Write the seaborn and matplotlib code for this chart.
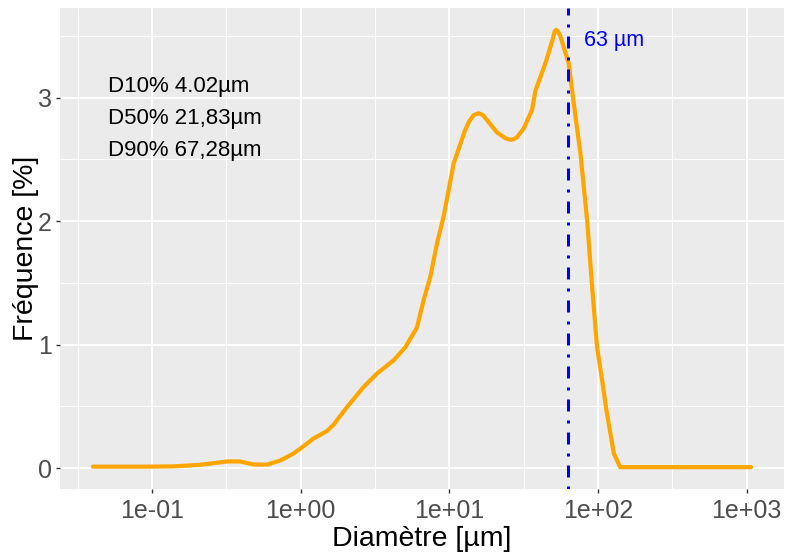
import numpy as np
import pandas as pd
import matplotlib
matplotlib.use("Agg")
import matplotlib.pyplot as plt
from matplotlib.ticker import FixedLocator, FixedFormatter, NullFormatter
import seaborn as sns

# Particle size distribution (diameter in µm, frequency in %)
diameter_um = [0.04, 0.06, 0.09, 0.138, 0.17, 0.21, 0.26, 0.32, 0.39, 0.48,
               0.59, 0.73, 0.89, 1.0, 1.22, 1.5, 1.66, 2.05, 2.65, 3.26,
               4.22, 5.06, 6.06, 6.71, 7.45, 8.26, 9.16, 10.7, 11.9, 12.7,
               13.6, 14.6, 15.7, 16.8, 17.9, 20.9, 24.0, 25.7, 27.2, 28.5,
               31.6, 36.0, 38.0, 44.3, 49.5, 51.2, 52.4, 53.6, 55.8, 63.5,
               68.7, 76.2, 84.5, 91.3, 98.6, 107.0, 114.0, 128.0, 141.0, 200.0,
               500.0, 1072.0]
frequency_pct = [0.012, 0.012, 0.012, 0.014, 0.02, 0.027, 0.04, 0.054, 0.054, 0.03,
                 0.028, 0.062, 0.117, 0.16, 0.24, 0.30, 0.35, 0.495, 0.657, 0.766,
                 0.873, 0.98, 1.14, 1.36, 1.55, 1.82, 2.04, 2.47, 2.63, 2.73,
                 2.81, 2.86, 2.875, 2.86, 2.82, 2.72, 2.67, 2.66, 2.665, 2.68,
                 2.75, 2.90, 3.06, 3.28, 3.47, 3.54, 3.55, 3.54, 3.50, 3.28,
                 2.955, 2.55, 2.01, 1.47, 0.98, 0.70, 0.468, 0.117, 0.008, 0.008,
                 0.008, 0.008]

cutoff_um = 63
cutoff_label = "63 µm"
stats_labels = ["D10% 4.02µm", "D50% 21,83µm", "D90% 67,28µm"]
stats_y = [3.05, 2.79, 2.53]

x_breaks = [0.1, 1, 10, 100, 1000]
x_break_labels = ["1e-01", "1e+00", "1e+01", "1e+02", "1e+03"]
y_breaks = [0, 1, 2, 3]

df = pd.DataFrame({"Diametre": diameter_um, "Frequence": frequency_pct})

sns.set_theme(style="darkgrid")
plt.rcParams["font.family"] = ["Liberation Sans", "DejaVu Sans"]

fig, ax = plt.subplots(figsize=(7.86, 5.52), dpi=100)
fig.subplots_adjust(left=60 / 786, right=784 / 786, top=1 - 8 / 552, bottom=1 - 489 / 552)
fig.patch.set_facecolor("white")
ax.set_facecolor("#EBEBEB")
for s in ax.spines.values():
    s.set_visible(False)

ax.set_xscale("log")
sns.lineplot(data=df, x="Diametre", y="Frequence", color="#FFA500",
             linewidth=3.0, ax=ax, zorder=3)

# 63 µm cut-off line
vl = ax.axvline(cutoff_um, color="#0000FF", linewidth=2.16, zorder=4)
vl.set_dashes((1, 3, 4, 3))
ax.text(80, 3.42, cutoff_label, color="#0000FF", fontsize=15.5,
        ha="left", va="baseline", zorder=5)

for lbl, yv in zip(stats_labels, stats_y):
    ax.text(0.0506, yv, lbl, color="black", fontsize=16,
            ha="left", va="baseline", zorder=5)

# ggplot-like expansion of limits (5%)
lx = np.log10([min(diameter_um), max(diameter_um)])
dx = (lx[1] - lx[0]) * 0.05
ax.set_xlim(10 ** (lx[0] - dx), 10 ** (lx[1] + dx))
ymin, ymax = min(frequency_pct), max(frequency_pct)
dy = (ymax - ymin) * 0.05
ax.set_ylim(ymin - dy, ymax + dy)

ax.xaxis.set_major_locator(FixedLocator(x_breaks))
ax.xaxis.set_major_formatter(FixedFormatter(x_break_labels))
minor_x = [10 ** (np.log10(b) - 0.5) for b in x_breaks] + [10 ** 3.5]
ax.xaxis.set_minor_locator(FixedLocator(minor_x))
ax.xaxis.set_minor_formatter(NullFormatter())
ax.yaxis.set_major_locator(FixedLocator(y_breaks))
ax.yaxis.set_minor_locator(FixedLocator([0.5, 1.5, 2.5, 3.5]))

ax.grid(which="major", color="white", linewidth=1.4)
ax.grid(which="minor", color="white", linewidth=0.7)

ax.tick_params(axis="both", which="major", length=3, width=1.0, color="#333333",
               labelcolor="#4D4D4D", labelsize=18, pad=3, bottom=True, left=True)
ax.tick_params(axis="both", which="minor", length=0)
ax.tick_params(axis="x", which="major", pad=4)

ax.set_xlabel("Diamètre [µm]", fontsize=20.5, color="black", labelpad=2)
ax.set_ylabel("Fréquence [%]", fontsize=20.5, color="black", labelpad=-1)

fig.savefig("out.png", dpi=100)
